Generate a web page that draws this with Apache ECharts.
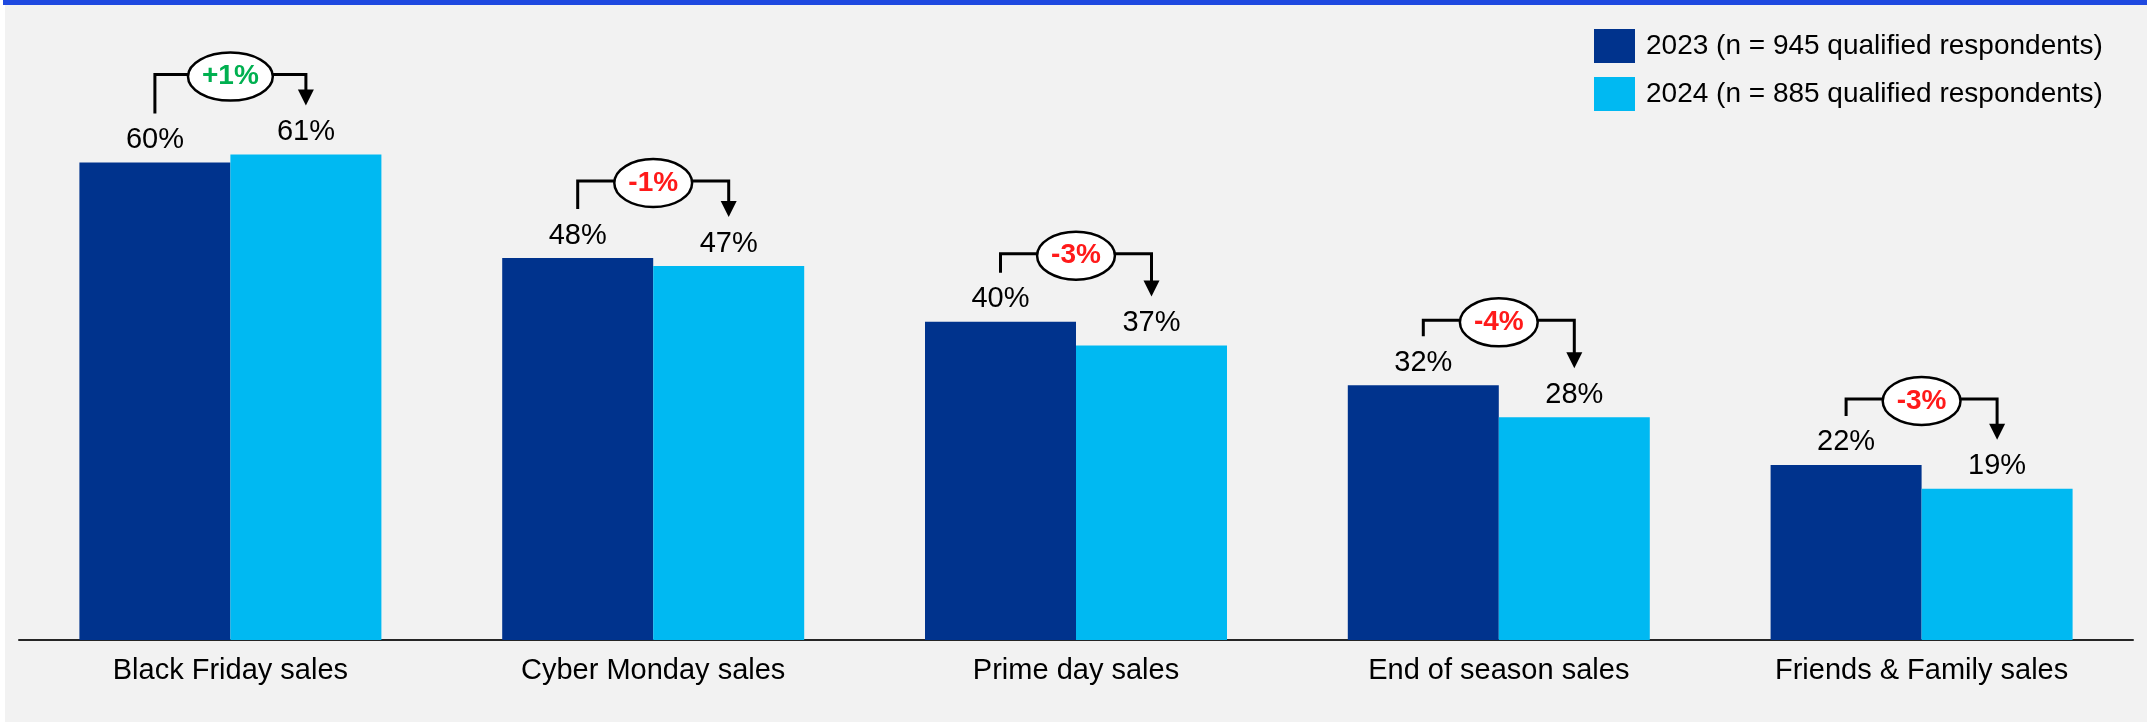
<!DOCTYPE html>
<html>
<head>
<meta charset="utf-8">
<script src="https://cdn.jsdelivr.net/npm/echarts@6/dist/echarts.min.js"></script>
<style>
  html, body { margin: 0; padding: 0; background: #ffffff; }
  body { width: 2147px; height: 723px; position: relative; overflow: hidden; }
  #panel { position: absolute; left: 5px; top: 0; right: 0; bottom: 1px; background: #f2f2f2; }
  #band { position: absolute; left: 3px; top: 0; right: 0; height: 5px; background: #1f49e0; }
  #chart { position: absolute; left: 0; top: 0; width: 2147px; height: 723px; }
</style>
</head>
<body>
<div id="panel"></div>
<div id="band"></div>
<div id="chart"></div>
<script>
// Sales events and the share of respondents who shopped them, by survey year
const categories = ['Black Friday sales', 'Cyber Monday sales', 'Prime day sales', 'End of season sales', 'Friends & Family sales'];
const seriesNames = ['2023 (n = 945 qualified respondents)', '2024 (n = 885 qualified respondents)'];
const values2023 = [60, 48, 40, 32, 22];
const values2024 = [61, 47, 37, 28, 19];
const changeLabels = ['+1%', '-1%', '-3%', '-4%', '-3%'];

// Layout of the change callouts (pixels)
const BAR_WIDTH = 151;
const CALLOUT_GAP = 49;            // space between bar top and callout ends
const CALLOUT_RISE = [39, 28, 19, 16, 17]; // height of the left stem of each callout
const FONT = 'Liberation Sans, Arial, sans-serif';
const TEXT_SIZE = 29;
const LEGEND_SIZE = 28;

const COLOR_2023 = '#00338d';
const COLOR_2024 = '#00b9f2';
const COLOR_UP = '#00b050';
const COLOR_DOWN = '#ff1a1a';

const measureCtx = document.createElement('canvas').getContext('2d');
function textWidth(text, font) {
  measureCtx.font = font;
  return measureCtx.measureText(text).width;
}

const chart = echarts.init(document.getElementById('chart'), null, { renderer: 'canvas' });

const labelStyle = {
  show: true,
  position: 'top',
  distance: 8,
  formatter: '{c}%',
  fontSize: TEXT_SIZE,
  fontFamily: FONT,
  color: '#000000'
};

function renderCallout(params, api) {
  const i = api.value(0);
  const a = api.coord([i, api.value(1)]);
  const b = api.coord([i, api.value(2)]);
  const half = BAR_WIDTH / 2;
  const x1 = a[0] - half;
  const x2 = b[0] + half;
  const stemBottom = a[1] - CALLOUT_GAP;
  const tip = b[1] - CALLOUT_GAP;
  const yLine = stemBottom - CALLOUT_RISE[i];
  const headLen = 16, headHalf = 8;
  const text = changeLabels[i];
  const font = 'bold 28px ' + FONT;
  const rx = textWidth(text, font) / 2 + 14;
  const ry = 24;
  const cx = (x1 + x2) / 2;
  const color = text.charAt(0) === '+' ? COLOR_UP : COLOR_DOWN;
  return {
    type: 'group',
    children: [
      {
        type: 'polyline',
        shape: { points: [[x1, stemBottom], [x1, yLine], [x2, yLine], [x2, tip - headLen + 1]] },
        style: { stroke: '#000000', lineWidth: 3, fill: null }
      },
      {
        type: 'polygon',
        shape: { points: [[x2 - headHalf, tip - headLen], [x2 + headHalf, tip - headLen], [x2, tip]] },
        style: { fill: '#000000' }
      },
      {
        type: 'ellipse',
        shape: { cx: cx, cy: yLine + 2, rx: rx, ry: ry },
        style: { fill: '#ffffff', stroke: '#000000', lineWidth: 2.5 }
      },
      {
        type: 'text',
        style: {
          text: text,
          x: cx,
          y: yLine + 2,
          align: 'center',
          verticalAlign: 'middle',
          font: font,
          fill: color
        }
      }
    ]
  };
}

chart.setOption({
  animation: false,
  backgroundColor: 'transparent',
  legend: {
    data: seriesNames,
    orient: 'vertical',
    left: 1589,
    top: 24,
    icon: 'rect',
    itemWidth: 41,
    itemHeight: 34,
    itemGap: 14,
    textStyle: { fontSize: LEGEND_SIZE, fontFamily: FONT, color: '#000000', padding: [0, 0, 0, 6] }
  },
  grid: { left: 19, right: 14, top: 83, bottom: 83, containLabel: false },
  xAxis: {
    type: 'category',
    data: categories,
    axisLine: { lineStyle: { color: '#262626', width: 2 } },
    axisTick: { show: false },
    axisLabel: { fontSize: TEXT_SIZE, fontFamily: FONT, color: '#000000', margin: 16, interval: 0 }
  },
  yAxis: { type: 'value', min: 0, max: 70, show: false, splitLine: { show: false } },
  series: [
    {
      name: seriesNames[0],
      type: 'bar',
      data: values2023,
      barWidth: BAR_WIDTH,
      barGap: '0%',
      itemStyle: { color: COLOR_2023 },
      label: labelStyle
    },
    {
      name: seriesNames[1],
      type: 'bar',
      data: values2024,
      barWidth: BAR_WIDTH,
      barGap: '0%',
      itemStyle: { color: COLOR_2024 },
      label: labelStyle
    },
    {
      type: 'custom',
      name: 'change',
      renderItem: renderCallout,
      data: categories.map((c, i) => [i, values2023[i], values2024[i]]),
      encode: { x: 0, y: 1 },
      clip: false,
      z: 10,
      silent: true
    }
  ]
});
</script>
</body>
</html>
